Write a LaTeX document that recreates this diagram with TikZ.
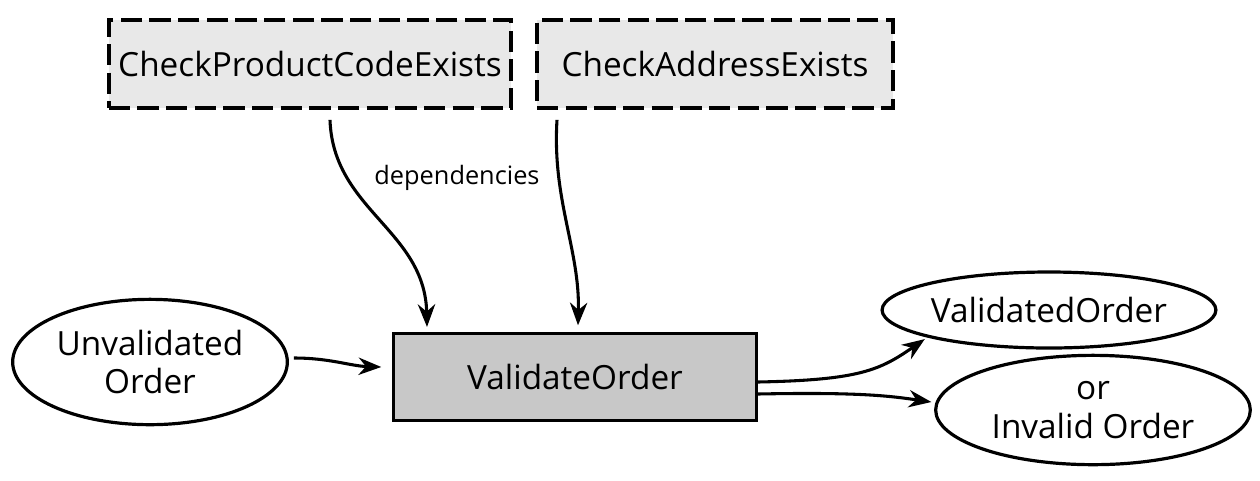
\documentclass[tikz,border=0pt]{standalone}
\usepackage{fontspec}
\setmainfont{Open Sans}
\usetikzlibrary{shapes.geometric,arrows.meta}
\definecolor{depgray}{HTML}{E8E8E8}
\definecolor{fungray}{HTML}{C8C8C8}
\begin{document}
\begin{tikzpicture}[x=0.75pt,y=-0.75pt,
  lbl/.style={font=\fontsize{25}{29}\selectfont, align=center},
  depbox/.style={draw, line width=2.8pt, dash pattern=on 16pt off 5.5pt, fill=depgray, minimum height=66pt, inner sep=0pt, lbl},
  funbox/.style={draw, line width=2.6pt, fill=fungray, minimum width=272pt, minimum height=65pt, inner sep=0pt, lbl},
  dataell/.style={draw, ellipse, line width=2.4pt, fill=white, inner sep=0pt, lbl},
  arr/.style={line width=2.3pt, -{Stealth[length=17pt,width=13pt]}}]
\useasboundingbox (0,0) rectangle (1260,480);
\node[depbox, minimum width=302pt] (cp) at (310,64) {CheckProductCodeExists};
\node[depbox, minimum width=267pt] (ca) at (715,64) {CheckAddressExists};
\node[funbox] (vo) at (575,377) {ValidateOrder};
\node[dataell, minimum width=206pt, minimum height=94pt] (uo) at (150,362) {Unvalidated\\Order};
\node[dataell, minimum width=241pt, minimum height=57pt] (vd) at (1049,310) {ValidatedOrder};
\node[dataell, minimum width=236pt, minimum height=82pt] (iv) at (1093,410) {or\\Invalid Order};
\node[font=\fontsize{19}{22}\selectfont] (dep) at (457,178) {dependencies};
\draw[arr] ([xshift=15pt,yshift=-7.5pt]cp.south) .. controls (333,210) and (425,230) .. ([xshift=-111pt,yshift=3.75pt]vo.north);
\draw[arr] ([xshift=-118.5pt,yshift=-7.5pt]ca.south) .. controls (552,200) and (580,250) .. ([xshift=2.25pt,yshift=5pt]vo.north);
\draw[arr] ([xshift=3.75pt,yshift=3pt]uo.east) .. controls (330,358) and (350,366) .. ([xshift=-8pt,yshift=7.5pt]vo.west);
\draw[arr] ([yshift=-3.75pt]vo.east) .. controls (860,380) and (880,370) .. ([xshift=-3pt,yshift=-1pt]vd.193);
\draw[arr] ([yshift=-12.75pt]vo.east) .. controls (860,392) and (890,396) .. ([xshift=-2pt,yshift=6pt]iv.west);
\end{tikzpicture}
\end{document}
